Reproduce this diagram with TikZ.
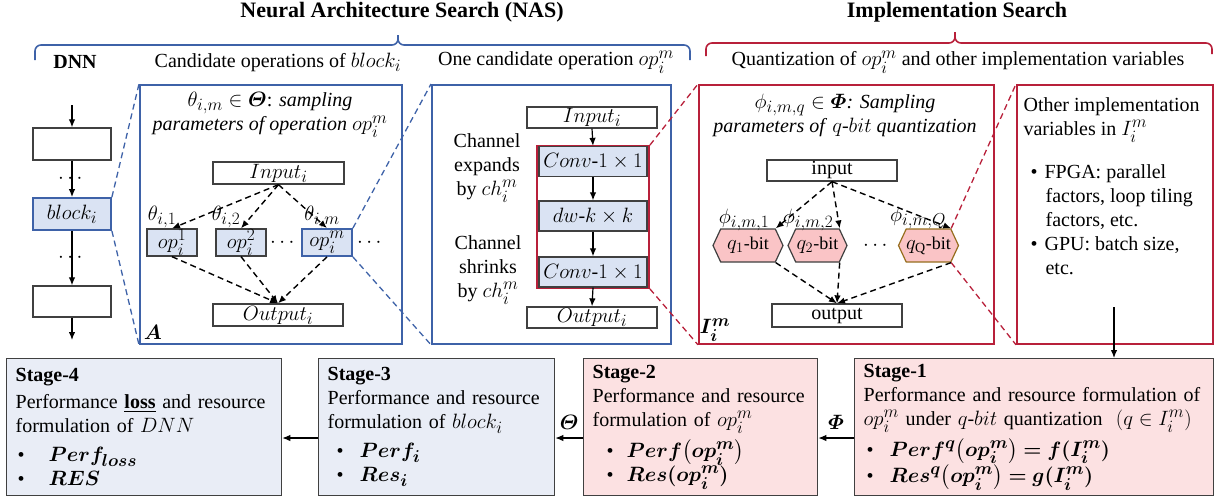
\documentclass[tikz,border=0pt]{standalone}
\usepackage{fontspec}
\setmainfont{Liberation Serif}
\usepackage{amsmath,bm}
\usetikzlibrary{arrows.meta,shapes.symbols}
\DeclareMathSizes{20}{22}{16}{12}
\DeclareMathSizes{18}{20}{14}{10}

\definecolor{nasblue}{RGB}{62,98,168}
\definecolor{implred}{RGB}{184,32,58}
\definecolor{blockfill}{RGB}{218,227,243}
\definecolor{hexfill}{RGB}{250,196,198}
\definecolor{stageblue}{RGB}{233,237,246}
\definecolor{stagepink}{RGB}{252,225,226}
\definecolor{boxgray}{RGB}{64,64,64}
\definecolor{qborder}{RGB}{150,110,30}

\begin{document}
\begin{tikzpicture}[x=1pt, y=-1pt,
    font=\fontsize{20}{24}\selectfont,
    line width=1.2pt,
    >={Latex[length=8pt,width=6.5pt]},
    graybox/.style={draw=boxgray, fill=white, inner sep=0pt, line width=1.3pt},
    opbox/.style={graybox, fill=blockfill},
    hexbox/.style={signal, signal to=east and west, signal pointer angle=130,
      draw=boxgray, fill=hexfill, inner sep=0pt, minimum height=33pt,
      line width=1.2pt, font=\fontsize{18}{20}\selectfont},
    areabox/.style={draw, line width=1.8pt, anchor=north west, inner sep=0pt},
    zoomline/.style={dash pattern=on 6pt off 4pt, line width=1.3pt},
    dasharr/.style={->, dash pattern=on 6pt off 4pt, line width=1.4pt},
    stagebox/.style={draw=boxgray, line width=1.3pt, anchor=north west, align=left,
      inner xsep=9pt, inner ysep=0pt, minimum height=137pt}]
    \useasboundingbox (0,0) rectangle (1222,499);

    % Titles
    \node[font=\fontsize{22}{26}\selectfont\bfseries] (nastitle) at (402,12) {Neural Architecture Search (NAS)};
    \node[font=\fontsize{22}{26}\selectfont\bfseries] (imptitle) at (957,12) {Implementation Search};

    % Braces
    \draw[nasblue, line width=1.6pt, rounded corners=6pt] (35,60) -- (35,45) -- (398,45) -- (398,35);
    \draw[nasblue, line width=1.6pt, rounded corners=6pt] (398,35) -- (398,45) -- (690,45) -- (690,60);
    \draw[implred, line width=1.6pt, rounded corners=6pt] (706,56) -- (706,43) -- (955,43) -- (955,32);
    \draw[implred, line width=1.6pt, rounded corners=6pt] (955,32) -- (955,43) -- (1212,43) -- (1212,54);

    % Headings
    \node[font=\fontsize{20}{24}\selectfont\bfseries] (dnnhead) at (75,62) {DNN};
    \node (candhead) at (278,62) {Candidate operations of $block_i$};
    \node (onehead) at (556,62) {One candidate operation $op_i^m$};
    \node (quanthead) at (958,62) {Quantization of $op_i^m$ and other implementation variables};

    % Area boxes
    \node[areabox, draw=nasblue, minimum width=262, minimum height=259] (boxA) at (139,84) {};
    \node[areabox, draw=nasblue, minimum width=239, minimum height=259] (boxB) at (431,84) {};
    \node[areabox, draw=implred, minimum width=295, minimum height=259] (boxC) at (698,84) {};
    \node[areabox, draw=implred, minimum width=196, minimum height=259] (boxD) at (1016,84) {};

    % DNN column
    \node[graybox, minimum width=78, minimum height=32] (dnn1) at (72,144) {};
    \node[opbox, draw=nasblue, line width=1.8pt, minimum width=78, minimum height=32] (blocki) at (72,214) {$block_i$};
    \node[graybox, minimum width=78, minimum height=31] (dnn3) at (72,301.5) {};
    \coordinate (dnnin) at (72,105);
    \coordinate (dnnout) at (72,340);
    \draw[->] (dnnin) -- (dnn1);
    \draw[->] (dnn1) -- node {$\cdots$} (blocki);
    \draw[->] (blocki) -- node {$\cdots$} (dnn3);
    \draw[->] (dnn3) -- (dnnout);

    % Zoom lines
    \draw[zoomline, nasblue] (blocki.north east) -- (boxA.north west);
    \draw[zoomline, nasblue] (blocki.south east) -- (boxA.south west);

    % Candidate operations
    \node[align=center] (titleA) at (270,115) {$\theta_{i,m}\in\bm{\varTheta}$: \textit{sampling}\\ \textit{parameters of operation} $op_i^m$};
    \node[graybox, minimum width=131, minimum height=22] (inA) at (278.5,173) {$Input_i$};
    \node[opbox, minimum width=50, minimum height=27] (op1) at (172,242.5) {$op_i^1$};
    \node[opbox, minimum width=50, minimum height=27] (op2) at (241,242.5) {$op_i^2$};
    \node[opbox, draw=nasblue, line width=1.8pt, minimum width=50, minimum height=27] (opm) at (327,242.5) {$op_i^m$};
    \node (dotsA1) at (284,243) {$\cdots$};
    \node (dotsA2) at (371,243) {$\cdots$};
    \node[graybox, minimum width=130, minimum height=22] (outA) at (278,315) {$Output_i$};
    \node (thA1) at (162,217) {$\theta_{i,1}$};
    \node (thA2) at (226,217) {$\theta_{i,2}$};
    \node (thAm) at (322,217) {$\theta_{i,m}$};
    \node (labA) at (153,332) {$\bm{A}$};
    \draw[dasharr] (inA.south) -- (op1.north);
    \draw[dasharr] (inA.south) -- (op2.north);
    \draw[dasharr] (inA.south) -- (opm.north);
    \draw[dasharr] (op1.south) -- (outA.north);
    \draw[dasharr] (op2.south) -- (outA.north);
    \draw[dasharr] (opm.south) -- (outA.north);

    \draw[zoomline, nasblue] (opm.north east) -- (boxB.north west);
    \draw[zoomline, nasblue] (opm.south east) -- (boxB.south west);

    % One candidate operation
    \node[graybox, minimum width=130, minimum height=21] (inB) at (592,117.5) {$Input_i$};
    \node[draw=implred, line width=1.8pt, minimum width=112, minimum height=142, inner sep=0pt] (convgrp) at (593,217) {};
    \node[opbox, minimum width=108, minimum height=30] (conv1) at (593,161.5) {$Conv\text{-}1\times 1$};
    \node[opbox, minimum width=108, minimum height=30] (dwconv) at (593,216) {$dw\text{-}k\times k$};
    \node[opbox, minimum width=108, minimum height=30] (conv2) at (593,272) {$Conv\text{-}1\times 1$};
    \node[graybox, minimum width=130, minimum height=21] (outB) at (592,317.5) {$Output_i$};
    \node[align=center] (chexp) at (487,168) {Channel\\ expands\\ by $ch_i^m$};
    \node[align=center] (chshr) at (488,270) {Channel\\ shrinks\\ by $ch_i^m$};
    \draw[->] (inB.south) -- (conv1.north);
    \draw[->] (conv1) -- (dwconv);
    \draw[->] (dwconv) -- (conv2);
    \draw[->] (conv2.south) -- (outB.north);

    \draw[zoomline, implred] (convgrp.north east) -- (boxC.north west);
    \draw[zoomline, implred] (convgrp.south east) -- (boxC.south west);

    % Quantization
    \node[align=center] (titleC) at (845,115.5) {$\phi_{i,m,q}\in\bm{\varPhi}$\textit{: Sampling}\\ \textit{parameters of} $q$-$bit$ \textit{quantization}};
    \node[graybox, minimum width=130, minimum height=21] (inC) at (832,170.5) {input};
    \node[hexbox, minimum width=70] (q1) at (748,245.5) {$q_{1}$-bit};
    \node[hexbox, minimum width=59] (q2) at (817.5,245.5) {$q_{2}$-bit};
    \node[hexbox, minimum width=59, draw=qborder] (qQ) at (928.5,245.5) {$q_{\mathrm{Q}}$-bit};
    \node (dotsC) at (877,246) {$\cdots$};
    \node[graybox, minimum width=130, minimum height=23] (outC) at (837,315.5) {output};
    \node (phi1) at (744,220) {$\phi_{i,m,1}$};
    \node (phi2) at (808,220) {$\phi_{i,m,2}$};
    \node (phiQ) at (918,218) {$\phi_{i,m,Q}$};
    \node (labI) at (715,330) {$\bm{I_i^m}$};
    \draw[dasharr] (inC.south) -- (q1.north east);
    \draw[dasharr] (inC.south) -- (q2.north east);
    \draw[dasharr] (inC.south) -- (qQ.north east);
    \draw[dasharr] (q1.south east) -- (outC.north);
    \draw[dasharr] (q2.south east) -- (outC.north);
    \draw[dasharr] (qQ.south east) -- (outC.north);

    \draw[zoomline, implred] (qQ.north east) -- (boxD.north west);
    \draw[zoomline, implred] (qQ.south east) -- (boxD.south west);

    % Other implementation variables
    \node[anchor=north west, align=left, inner sep=0pt] (otherI) at (1023,97) {Other implementation\\ variables in $I_i^m$\\[19pt]
      \hspace*{7pt}\textbullet\hspace{7pt}FPGA: parallel\\ \hspace*{22pt}factors, loop tiling\\ \hspace*{22pt}factors, etc.\\
      \hspace*{7pt}\textbullet\hspace{7pt}GPU: batch size,\\ \hspace*{22pt}etc.};

    % Stages
    \node[stagebox, fill=stageblue, text width=257] (st4) at (6,358) {\textbf{Stage-4}\\[3pt]
      Performance \underline{\textbf{loss}} and resource\\ formulation of $DNN$\\[5pt]
      \hspace*{2pt}\textbullet\hspace{24pt}$\bm{Perf_{loss}}$\\ \hspace*{2pt}\textbullet\hspace{24pt}$\bm{RES}$};
    \node[stagebox, fill=stageblue, text width=218] (st3) at (318,358) {\textbf{Stage-3}\\
      Performance and resource\\ formulation of $block_i$\\[5pt]
      \hspace*{9pt}\textbullet\hspace{16pt}$\bm{Perf_i}$\\ \hspace*{9pt}\textbullet\hspace{16pt}$\bm{Res_i}$};
    \node[stagebox, fill=stagepink, text width=216] (st2) at (583,358) {\textbf{Stage-2}\\
      Performance and resource\\ formulation of $op_i^m$\\[5pt]
      \hspace*{14pt}\textbullet\hspace{13pt}$\bm{Perf\bigl(op_i^m\bigr)}$\\ \hspace*{14pt}\textbullet\hspace{13pt}$\bm{Res(op_i^m)}$};
    \node[stagebox, fill=stagepink, text width=341] (st1) at (854,358) {\textbf{Stage-1}\\
      Performance and resource formulation of\\ $op_i^m$ under $q$-$bit$ quantization \ $(q\in I_i^m)$\\[5pt]
      \hspace*{3pt}\textbullet\hspace{16pt}$\bm{Perf^q\bigl(op_i^m\bigr)=f(I_i^m)}$\\ \hspace*{3pt}\textbullet\hspace{16pt}$\bm{Res^q\bigl(op_i^m\bigr)=g(I_i^m)}$};

    % Stage arrows
    \coordinate (impl) at (1114,307);
    \coordinate (ay) at (0,438);
    \draw[->] (impl) -- (impl |- st1.north);
    \draw[->] (st1.west |- ay) -- node[above=5pt] {$\bm{\varPhi}$} (st2.east |- ay);
    \draw[->] (st2.west |- ay) -- node[above=5pt] {$\bm{\varTheta}$} (st3.east |- ay);
    \draw[->] (st3.west |- ay) -- (st4.east |- ay);
\end{tikzpicture}
\end{document}
